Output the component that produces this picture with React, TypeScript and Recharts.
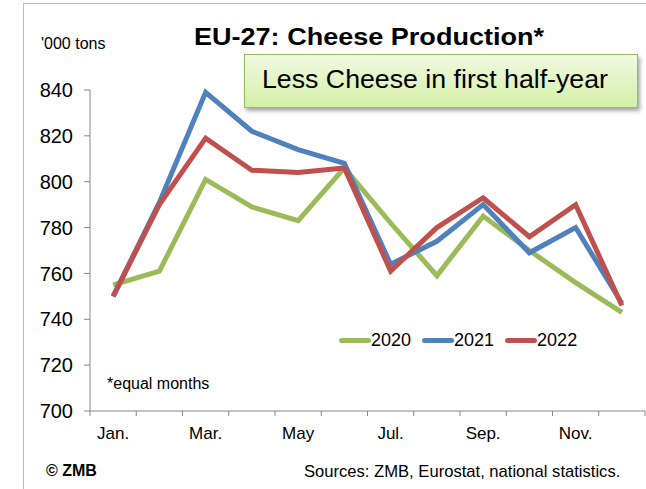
import { LineChart, Line, XAxis, YAxis, Legend } from "recharts";

const MONTHS = ["Jan.", "Feb.", "Mar.", "Apr.", "May", "Jun.", "Jul.", "Aug.", "Sep.", "Oct.", "Nov.", "Dec."];
const Y2020 = [755, 761, 801, 789, 783, 806, 782, 759, 785, 770, 756, 743];
const Y2021 = [750, 791, 839, 822, 814, 808, 764, 774, 790, 769, 780, 747];
const Y2022 = [750, 790, 819, 805, 804, 806, 761, 780, 793, 776, 790, 746];
const Y_TICKS = [700, 720, 740, 760, 780, 800, 820, 840];

const SERIES = [
  { key: "2020", color: "#9BBB59" },
  { key: "2021", color: "#4F81BD" },
  { key: "2022", color: "#C0504D" },
];

const data = MONTHS.map((m, i) => ({ month: m, "2020": Y2020[i], "2021": Y2021[i], "2022": Y2022[i] }));

const FONT = "'Liberation Sans', Arial, sans-serif";
const AXIS_COLOR = "#868686";
const BAND = (646 - 90 - 1) / 12; // width of one month on the x axis

// month tick: tick mark on the category boundaries, label every second month
function MonthTick(props: any) {
  const { x, y, payload, index } = props;
  const left = x - BAND / 2;
  return (
    <g>
      <line x1={left} y1={y} x2={left} y2={y + 5} stroke={AXIS_COLOR} strokeWidth={1} />
      {index === MONTHS.length - 1 && (
        <line x1={x + BAND / 2} y1={y} x2={x + BAND / 2} y2={y + 5} stroke={AXIS_COLOR} strokeWidth={1} />
      )}
      {index % 2 === 0 && (
        <text x={x} y={y + 28} textAnchor="middle" fontSize={17} fill="#000" fontFamily={FONT}>
          {payload.value}
        </text>
      )}
    </g>
  );
}

function LegendContent() {
  return (
    <div style={{ display: "flex", alignItems: "center", fontFamily: FONT, fontSize: 18, color: "#000" }}>
      {SERIES.map((s) => (
        <div key={s.key} style={{ display: "flex", alignItems: "center", marginRight: 11 }}>
          <span style={{ display: "inline-block", width: 32, height: 5, borderRadius: 3, background: s.color }} />
          <span style={{ lineHeight: "20px" }}>{s.key}</span>
        </div>
      ))}
    </div>
  );
}

export default function App() {
  return (
    <div style={{ position: "absolute", left: 0, top: 0, width: 646, height: 489, overflow: "hidden", background: "#fff" }}>
      <div
        style={{
          position: "absolute", left: 23, top: 3, width: 623, height: 486,
          borderLeft: "1.5px solid #BFBFBF", borderTop: "1.5px solid #BFBFBF", boxSizing: "border-box",
        }}
      />
      <LineChart
        width={646}
        height={489}
        data={data}
        margin={{ top: 90, right: 1, bottom: 0, left: 30 }}
        style={{ position: "absolute", left: 0, top: 0 }}
      >
        <XAxis
          dataKey="month"
          scale="band"
          interval={0}
          height={78}
          tickSize={0}
          tickMargin={0}
          tick={<MonthTick />}
          axisLine={{ stroke: AXIS_COLOR, strokeWidth: 1 }}
        />
        <YAxis
          width={60}
          domain={[700, 840]}
          ticks={Y_TICKS}
          interval={0}
          tickSize={6}
          tickMargin={11}
          axisLine={{ stroke: AXIS_COLOR, strokeWidth: 1 }}
          tickLine={{ stroke: AXIS_COLOR, strokeWidth: 1 }}
          tick={{ fontSize: 20, fill: "#000", fontFamily: FONT }}
        />
        {SERIES.map((s) => (
          <Line
            key={s.key}
            dataKey={s.key}
            stroke={s.color}
            strokeWidth={5}
            dot={false}
            isAnimationActive={false}
          />
        ))}
        <Legend
          layout="horizontal"
          verticalAlign="middle"
          align="center"
          content={<LegendContent />}
          wrapperStyle={{ position: "absolute", left: 339, top: 330, width: "auto", height: 20 }}
        />
      </LineChart>

      <div
        style={{
          position: "absolute", left: 244, top: 54, width: 394, height: 54, boxSizing: "border-box",
          border: "1.5px solid #9BBB59",
          background: "linear-gradient(#F1FAE3, #D4EFA6)",
          boxShadow: "2px 3px 4px rgba(0,0,0,0.35)",
        }}
      />

      <svg width={646} height={489} style={{ position: "absolute", left: 0, top: 0, pointerEvents: "none" }}>
        <text x={194} y={45} fontSize={23.5} fontWeight="bold" fontFamily={FONT} textLength={350} lengthAdjust="spacingAndGlyphs">
          EU-27: Cheese Production*
        </text>
        <text x={41} y={49} fontSize={16} fontFamily={FONT}>'000 tons</text>
        <text x={262} y={88} fontSize={25} fontFamily={FONT} textLength={346} lengthAdjust="spacingAndGlyphs">
          Less Cheese in first half-year
        </text>
        <text x={107} y={389} fontSize={16} fontFamily={FONT}>*equal months</text>
        <text x={46} y={476} fontSize={16} fontWeight="bold" fontFamily={FONT}>© ZMB</text>
        <text x={304} y={477} fontSize={16.6} fontFamily={FONT}>Sources: ZMB, Eurostat, national statistics.</text>
      </svg>
    </div>
  );
}
